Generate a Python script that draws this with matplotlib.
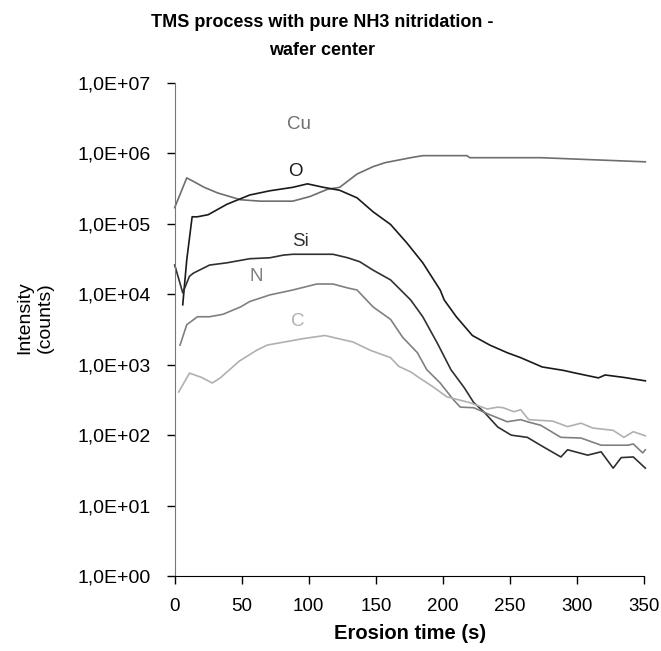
import matplotlib
matplotlib.use('Agg')
import matplotlib.pyplot as plt
from matplotlib.ticker import FixedLocator, FixedFormatter

plt.rcParams['font.family'] = ['Liberation Sans', 'DejaVu Sans']

# erosion time (s) and intensity (counts) per element
t_cu = [0, 9, 14, 22, 32, 49, 64, 88, 101, 114, 123, 136, 148, 157, 176, 185, 218, 220, 273, 351]
cu = [1.7e5, 4.5e5, 4.0e5, 3.3e5, 2.75e5, 2.2e5, 2.1e5, 2.1e5, 2.45e5, 3.1e5, 3.3e5, 5.1e5,
      6.5e5, 7.4e5, 8.7e5, 9.3e5, 9.3e5, 8.7e5, 8.7e5, 7.6e5]

t_o = [6, 9, 13, 17, 25, 39, 56, 71, 88, 99, 111, 123, 136, 148, 161, 173, 185, 198, 201,
       210, 222, 235, 248, 258, 274, 290, 299, 316, 321, 335, 351]
o = [7.1e3, 3.1e4, 1.26e5, 1.26e5, 1.35e5, 1.9e5, 2.57e5, 2.95e5, 3.3e5, 3.7e5, 3.3e5, 3.0e5,
     2.34e5, 1.48e5, 9.8e4, 5.4e4, 2.8e4, 1.15e4, 8.3e3, 4.8e3, 2.6e3, 1.9e3, 1.48e3, 1.26e3,
     930, 830, 760, 650, 715, 660, 590]

t_si = [0, 6, 11, 14, 26, 39, 56, 71, 81, 88, 118, 129, 138, 148, 161, 176, 185, 196, 206,
        216, 223, 231, 241, 251, 263, 275, 288, 293, 308, 318, 327, 333, 342, 351]
si = [2.6e4, 1.05e4, 1.8e4, 2.0e4, 2.6e4, 2.8e4, 3.2e4, 3.3e4, 3.6e4, 3.7e4, 3.7e4, 3.3e4,
      2.9e4, 2.2e4, 1.6e4, 8.3e3, 4.8e3, 2.0e3, 850, 470, 290, 210, 130, 100, 93, 68, 49, 62,
      52, 58, 34, 48, 49, 34]

t_n = [4, 9, 17, 26, 36, 49, 56, 71, 88, 106, 118, 129, 136, 148, 161, 170, 181, 188, 198,
       208, 213, 223, 235, 248, 258, 263, 273, 288, 303, 318, 338, 342, 349, 351]
n = [1.9e3, 3.7e3, 4.8e3, 4.8e3, 5.2e3, 6.6e3, 7.9e3, 9.8e3, 1.15e4, 1.4e4, 1.4e4, 1.23e4,
     1.15e4, 6.6e3, 4.4e3, 2.45e3, 1.48e3, 850, 550, 316, 250, 245, 195, 155, 166, 155, 138,
     93, 91, 72, 72, 75, 56, 62]

t_c = [3, 11, 20, 28, 34, 48, 61, 69, 96, 112, 133, 146, 161, 167, 176, 181, 193, 203, 211,
       220, 233, 241, 245, 253, 258, 264, 282, 293, 303, 312, 327, 335, 342, 351]
c = [410, 760, 660, 550, 650, 1120, 1600, 1900, 2350, 2600, 2100, 1600, 1260, 950, 790, 680,
     480, 350, 320, 290, 235, 250, 245, 215, 230, 166, 158, 132, 148, 126, 117, 93, 112, 98]

y_ticks = [1e0, 1e1, 1e2, 1e3, 1e4, 1e5, 1e6, 1e7]
y_labels = ['1,0E+00', '1,0E+01', '1,0E+02', '1,0E+03', '1,0E+04', '1,0E+05', '1,0E+06', '1,0E+07']
x_ticks = [0, 50, 100, 150, 200, 250, 300, 350]

fig = plt.figure(figsize=(6.61, 6.51), dpi=100)
ax = fig.add_axes([0.2643, 0.1152, 0.7100, 0.7573])

series = [
    (t_cu, cu, '#6e6e6e', 'Cu', 93, 2.6e6),
    (t_o, o, '#1a1a1a', 'O', 90, 5.5e5),
    (t_si, si, '#303030', 'Si', 94, 5.7e4),
    (t_n, n, '#808080', 'N', 61, 1.8e4),
    (t_c, c, '#b0b0b0', 'C', 92, 4.1e3),
]
for t, v, col, name, lx, ly in series:
    ax.plot(t, v, color=col, lw=1.2, clip_on=False)
    ax.text(lx, ly, name, color=col, fontsize=13.5, ha='center', va='center')

ax.set_yscale('log')
ax.set_ylim(1, 1e7)
ax.set_xlim(0, 350)
ax.yaxis.set_major_locator(FixedLocator(y_ticks))
ax.yaxis.set_major_formatter(FixedFormatter(y_labels))
ax.yaxis.set_minor_locator(FixedLocator([]))
ax.set_xticks(x_ticks)

ax.spines['top'].set_visible(False)
ax.spines['right'].set_visible(False)
ax.spines['left'].set_color('#777777')
ax.spines['bottom'].set_color('black')
ax.tick_params(axis='y', length=6, width=1, pad=11, labelsize=14)
ax.tick_params(axis='x', length=6, width=1, pad=10, labelsize=13.5)

fig.text(0.487, 0.944, 'TMS process with pure NH3 nitridation -\nwafer center',
         ha='center', va='center', fontsize=13, fontweight='bold', linespacing=1.85)
fig.text(0.62, 0.012, 'Erosion time (s)', ha='center', va='bottom',
         fontsize=14.5, fontweight='bold')
fig.text(0.053, 0.512, 'Intensity\n(counts)', ha='center', va='center',
         rotation=90, fontsize=14, linespacing=1.3)

fig.savefig('out.png', dpi=100)
